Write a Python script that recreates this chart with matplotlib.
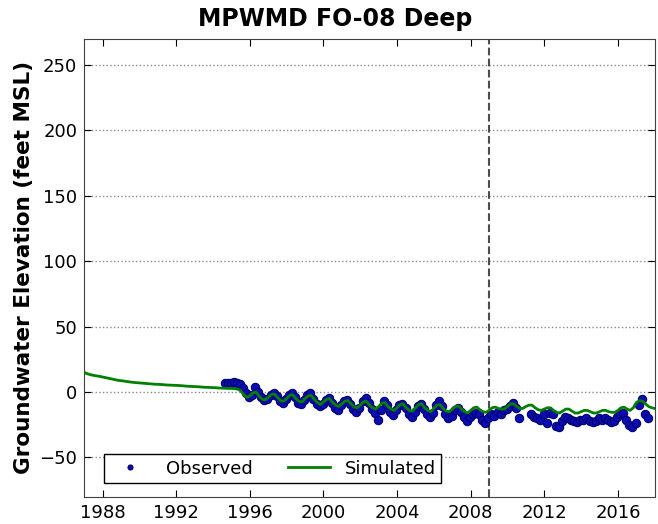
import numpy as np
import matplotlib
matplotlib.use("Agg")
import matplotlib.pyplot as plt

# observed water levels, sampled every two months from Aug 1994
obs_start = 1994.625
obs_values = [
    7, 7, 7,
    7.5, 7, 6, 3, -1, -3.5,
    -2, 3.5, 0, -4, -6, -5,
    -2, -0.5, -3, -7, -8, -5,
    -2, -1, -4, -8, -9, -6,
    -2, -0.5, -5, -9, -11, -9,
    -6, -4.5, -8, -12, -13.5, -10,
    -7, -6, -9, -13, -15, -12,
    -7, -4.5, -8, -13, -16, -21,
    -14, -7, -10, -15, -17.5, -14,
    -10, -9, -12, -17, -19, -15,
    -11, -9, -13, -17, -19, -16,
    -10, -7, -11, -17, -20, -18,
    -14, -12, -15, -19, -22, -19,
    -17, -16, -17, -21, -23.5, -20,
    -17, -18, -15, -17, -14, -13,
    -11, -8.5, -12, -20, np.nan, np.nan,
    np.nan, -17, -19, -20, -21, -17,
    -24, -16, -17, -26, -27, -22,
    -19, -20, -21, -22, -23, -21,
    -21, -20, -22, -23, -22, -20,
    -21, -20, -21, -23, -22, -19,
    -17, -16, -21, -25, -27, -24,
    -10, -5, -17, -20,
]

# simulated water levels, every two months from Jan 1987
sim_start = 1987.0
sim_values = [
    15, 14, 13.3, 12.8, 12.4, 12,
    11.5, 11, 10.5, 10, 9.5, 9,
    8.7, 8.4, 8, 7.7, 7.4, 7.2,
    7, 6.8, 6.6, 6.4, 6.2, 6,
    5.9, 5.8, 5.6, 5.4, 5.3, 5.2,
    5.1, 5, 4.8, 4.6, 4.4, 4.3,
    4.2, 4.1, 3.9, 3.7, 3.6, 3.5,
    3.4, 3.3, 3.1, 3, 2.9, 2.8,
    2.8, 2.6, 2.3, 1, -2, -4,
    -3, -0.5, 0, -3, -5.5, -6,
    -4, -2, -1.5, -4, -6.5, -7,
    -5, -2.5, -2, -5, -7, -7.5,
    -5, -3, -2.5, -5.5, -8, -9.5,
    -7.5, -5.5, -5, -8, -10, -11,
    -9, -7, -6.5, -9, -11.5, -12,
    -10, -7.5, -7, -10, -12, -13,
    -11, -8.5, -8, -11, -13, -14,
    -12, -9.5, -9, -12, -14, -14.5,
    -12, -9.5, -9, -12, -14, -15,
    -12.5, -10, -9.5, -12.5, -14.5, -15,
    -13, -11, -10.5, -13, -15, -16,
    -14, -12, -11.5, -13.5, -15, -15.5,
    -14, -12, -11.5, -12.5, -13, -13,
    -11, -9, -9, -11, -12.5, -12.5,
    -11, -10, -10, -12, -13.5, -14,
    -13, -12, -12, -14, -15.5, -16,
    -14.5, -13, -13, -14.5, -16, -16,
    -15, -14, -14, -15, -16, -16,
    -15, -14, -14, -15, -15.5, -15.5,
    -14, -12, -11.5, -13, -14, -12,
    -8, -6.5, -7, -9, -11, -12,
    -12.5,
]

tick_years = [1988, 1992, 1996, 2000, 2004, 2008, 2012, 2016]
cal_end = 2009.0


def main():
    obs_t = obs_start + np.arange(len(obs_values)) / 6.0
    sim_t = sim_start + np.arange(len(sim_values)) / 6.0

    fig = plt.figure(figsize=(6.58, 5.24), dpi=100)
    ax = fig.add_axes([0.128, 0.052, 0.867, 0.874])

    ax.plot(obs_t, obs_values, "o", color="#0c0cb4", mec="#00006e",
            ms=6, mew=0.8, label="Observed", zorder=3)
    ax.plot(sim_t, sim_values, "-", color="#008000", lw=2,
            label="Simulated", zorder=4)
    ax.axvline(cal_end, color="0.3", ls="--", lw=1.5, zorder=2)

    ax.set_xlim(1987, 2018)
    ax.set_ylim(-80, 270)
    ax.set_xticks(tick_years)
    ax.set_xticklabels([str(y) for y in tick_years])
    ax.set_yticks([-50, 0, 50, 100, 150, 200, 250])
    ax.yaxis.grid(True, ls=":", color="0.55", lw=1)
    ax.tick_params(direction="in", top=True, right=True, length=5,
                   labelsize=13, pad=5)
    for s in ax.spines.values():
        s.set_color("0.25")

    ax.set_title("MPWMD FO-08 Deep", fontsize=17, fontweight="bold",
                 x=0.44, pad=9)
    ax.set_ylabel("Groundwater Elevation (feet MSL)", fontsize=15.5,
                  fontweight="bold", labelpad=4)

    leg = ax.legend(loc="lower left", bbox_to_anchor=(0.035, 0.03),
                    borderaxespad=0, ncol=2, numpoints=1, fontsize=13,
                    fancybox=False, framealpha=1, edgecolor="black",
                    columnspacing=2.0, handlelength=2.3, markerscale=0.6,
                    borderpad=0.3)
    leg.get_frame().set_linewidth(1)

    fig.savefig("out.png", dpi=100)


if __name__ == "__main__":
    main()
